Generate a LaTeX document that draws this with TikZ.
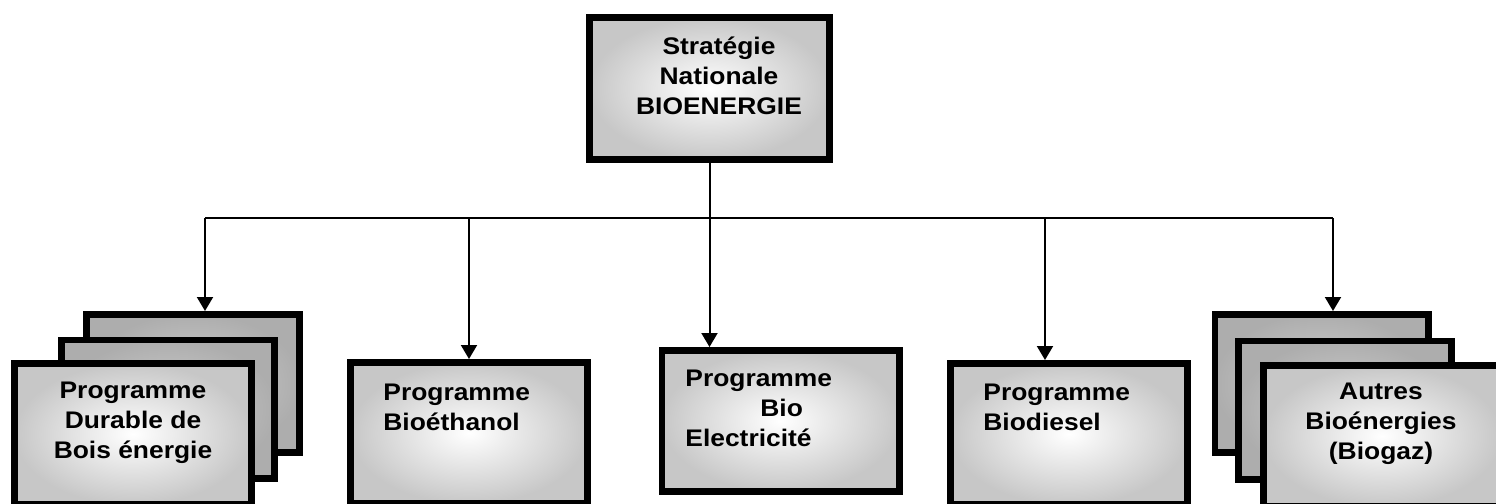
\documentclass[tikz,border=0pt]{standalone}
\usepackage{fontspec}
\newfontfamily\boxfont{Liberation Sans}[FakeStretch=1.1]
\usetikzlibrary{arrows.meta}
\tikzset{
  prog/.style={draw, line width=3.3pt, inner sep=0pt, minimum width=118.7pt, minimum height=70.7pt, inner color=white, outer color=black!22},
  progback/.style={prog, minimum width=106.7pt, minimum height=69.2pt, inner color=black!18, outer color=black!32},
  lbl/.style={font=\boxfont\bfseries\fontsize{12}{15}\selectfont, inner sep=0pt},
  link/.style={line width=1pt},
  arr/.style={link, -{Triangle[width=8pt,length=7pt]}}
}
\begin{document}
\begin{tikzpicture}[x=0.5pt, y=-0.5pt]
        \useasboundingbox (0,0) rectangle (1496,504);
        \clip (0,0) rectangle (1496,504);
        % strategie
        \node[prog, minimum width=120.2pt, minimum height=71.2pt] (strat) at (709.5,88.5) {};
        \node[lbl, align=center] at (719,76) {Stratégie\\Nationale\\BIOENERGIE};
        % programmes
        \node[progback] (boisA) at (193,383.5) {};
        \node[progback] (boisB) at (168,409) {};
        \node[prog] (boisC) at (133,434) {};
        \node[lbl, align=center] at (133,423) {Programme\\Durable de\\Bois énergie};
        \node[prog] (eth) at (469,433) {};
        \node[lbl, align=left, anchor=west] at (383,407) {Programme\\Bioéthanol};
        \node[prog] (elec) at (780.5,421) {};
        \node[lbl, align=left, anchor=west] at (685,408) {Programme\\\hspace*{37.5pt}Bio\\Electricité};
        \node[prog] (dies) at (1069,434) {};
        \node[lbl, align=left, anchor=west] at (983,407) {Programme\\Biodiesel};
        \node[progback] (autA) at (1321.5,383.5) {};
        \node[progback] (autB) at (1345,410) {};
        \node[prog] (autC) at (1382,436) {};
        \node[lbl, align=center] at (1381,424) {Autres\\Bioénergies\\(Biogaz)};
        % liens
        \coordinate (busL) at (205,218);
        \coordinate (busR) at (1333,218);
        \coordinate (busD) at (1045,218);
        \draw[link] (strat.south) -- (strat.south |- busL);
        \draw[link] (busL) -- (busR);
        \draw[arr] (busL) -- (busL |- boisA.north);
        \draw[arr] (eth.north |- busL) -- (eth.north);
        \draw[arr] (strat.south |- busL) -- (strat.south |- elec.north);
        \draw[arr] (busD) -- (busD |- dies.north);
        \draw[arr] (busR) -- (busR |- autA.north);
\end{tikzpicture}
\end{document}
